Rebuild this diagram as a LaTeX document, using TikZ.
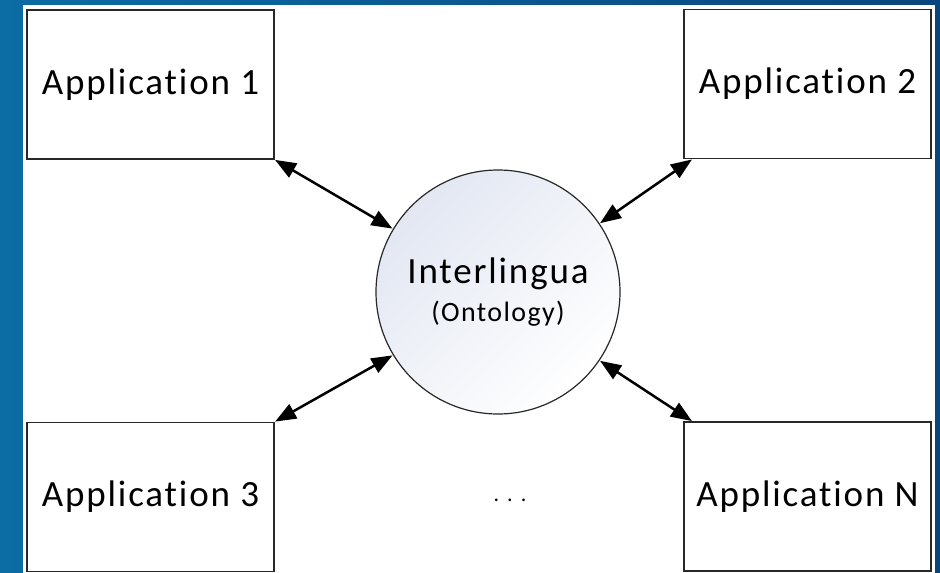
\documentclass[tikz,border=0pt]{standalone}
\usepackage{fontspec}
\setmainfont{Carlito}[LetterSpace=5,RawFeature={-liga}]
\usetikzlibrary{arrows.meta,shadings}
\definecolor{bgL}{RGB}{12,108,164}
\definecolor{bgR}{RGB}{10,70,126}
\definecolor{boxline}{RGB}{40,40,40}
\definecolor{circA}{RGB}{226,231,242}
\tikzset{
  appbox/.style={draw=boxline, line width=1.3pt, fill=white, minimum width=247pt, minimum height=149pt, inner sep=0pt, font=\fontsize{37}{40}\selectfont},
  link/.style={line width=2.5pt, {Triangle[length=21pt,width=16pt]}-{Triangle[length=21pt,width=16pt]}, shorten <=0.5pt, shorten >=0.5pt}
}
\begin{document}
\begin{tikzpicture}[x=1pt,y=-1pt]
\useasboundingbox (0,0) rectangle (940,573);
\shade[left color=bgL, right color=bgR] (0,0) rectangle (940,573);
\fill[white] (23,5) rectangle (935,573);
\node[appbox] (a1) at (150.5,84.5) {Application 1};
\node[appbox] (a2) at (807.5,84) {Application 2};
\node[appbox] (a3) at (150.5,497) {Application 3};
\node[appbox] (an) at (807.5,496.5) {Application N};
\node[circle, draw=boxline, line width=1.2pt, minimum size=244pt, inner sep=0pt,
      left color=circA, right color=white, shading angle=45, align=center] (c) at (498,292)
  {\fontsize{37}{38}\selectfont Interlingua\\[11pt]\fontsize{28}{38}\selectfont (Ontology)};
\node[font=\fontsize{22}{22}\selectfont] (dots) at (510,500) {.\hspace{8pt}.\hspace{8pt}.};
\draw[link] (a1.south east) -- (c.149);
\draw[link] ([xshift=9pt]a2.south west) -- (c.34);
\draw[link] (a3.north east) -- (c.211);
\draw[link] ([xshift=9pt]an.north west) -- (c.326);
\end{tikzpicture}
\end{document}
